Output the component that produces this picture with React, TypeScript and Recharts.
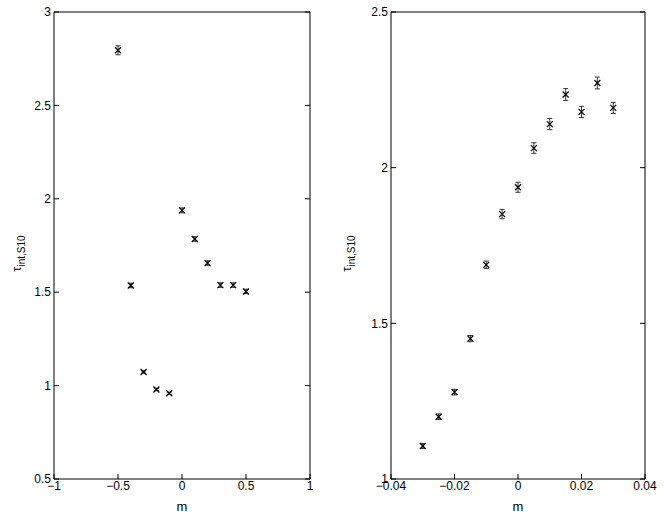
import React from 'react';
import { ScatterChart, Scatter, XAxis, YAxis, ErrorBar, Label } from 'recharts';

// left panel: wide range of m
const mLeft = [-0.5, -0.4, -0.3, -0.2, -0.1, 0, 0.1, 0.2, 0.3, 0.4, 0.5];
const tauLeft = [2.795, 1.536, 1.073, 0.979, 0.959, 1.938, 1.785, 1.656, 1.538, 1.538, 1.504];
const errLeft = [0.024, 0.012, 0.006, 0.006, 0.006, 0.013, 0.012, 0.012, 0.012, 0.012, 0.012];

// right panel: zoom near m = 0
const mRight = [-0.03, -0.025, -0.02, -0.015, -0.01, -0.005, 0, 0.005, 0.01, 0.015, 0.02, 0.025, 0.03];
const tauRight = [1.106, 1.2, 1.279, 1.451, 1.688, 1.851, 1.937, 2.063, 2.14, 2.235, 2.179, 2.272, 2.192];
const errRight = [0.008, 0.009, 0.009, 0.01, 0.012, 0.015, 0.016, 0.017, 0.018, 0.019, 0.018, 0.019, 0.018];

const leftXTicks = [-1, -0.5, 0, 0.5, 1];
const leftYTicks = [0.5, 1, 1.5, 2, 2.5, 3];
const rightXTicks = [-0.04, -0.02, 0, 0.02, 0.04];
const rightYTicks = [1, 1.5, 2, 2.5];

const font = '"Liberation Sans", Arial, sans-serif';
const tickStyle = { fontSize: 12, fill: '#000', fontFamily: font };

const fmt = (v: number) => String(v).replace('-', '\u2212');
const blank = () => '';

const Cross = (props: any) => {
  const { cx, cy } = props;
  const s = 3;
  return (
    <path
      d={`M${cx - s},${cy - s}L${cx + s},${cy + s}M${cx - s},${cy + s}L${cx + s},${cy - s}`}
      stroke="#000"
      strokeWidth={1.2}
      fill="none"
    />
  );
};

const TauLabel = (props: any) => {
  const vb = props.viewBox || {};
  const x = vb.x + 21;
  const y = vb.y + vb.height / 2 + 8;
  return (
    <text
      x={x}
      y={y}
      transform={`rotate(-90 ${x} ${y})`}
      textAnchor="middle"
      fontSize={13}
      fontFamily={font}
      fill="#000"
    >
      τ<tspan fontSize={10} dy={4}>int,S10</tspan>
    </text>
  );
};

type PanelProps = {
  xs: number[];
  ys: number[];
  errs: number[];
  xTicks: number[];
  yTicks: number[];
  width: number;
  yAxisWidth: number;
  rightMargin: number;
};

const Panel = ({ xs, ys, errs, xTicks, yTicks, width, yAxisWidth, rightMargin }: PanelProps) => {
  const data = xs.map((m, i) => ({ m, tau: ys[i], err: errs[i] }));
  const xDom: [number, number] = [xTicks[0], xTicks[xTicks.length - 1]];
  const yDom: [number, number] = [yTicks[0], yTicks[yTicks.length - 1]];
  return (
    <ScatterChart width={width} height={517} margin={{ top: 11, right: rightMargin, bottom: 6, left: 0 }}>
      <XAxis
        xAxisId="b"
        type="number"
        dataKey="m"
        domain={xDom}
        ticks={xTicks}
        tickFormatter={fmt}
        tickSize={-5}
        tickMargin={7}
        tick={tickStyle}
        stroke="#000"
        height={32}
        allowDataOverflow
      >
        <Label value="m" position="insideBottom" offset={0} style={{ fontSize: 13, fill: '#000', fontFamily: font }} />
      </XAxis>
      <XAxis
        xAxisId="t"
        orientation="top"
        type="number"
        domain={xDom}
        ticks={xTicks}
        tickFormatter={blank}
        tickSize={-5}
        stroke="#000"
        height={1}
        allowDataOverflow
      />
      <YAxis
        yAxisId="l"
        type="number"
        dataKey="tau"
        domain={yDom}
        ticks={yTicks}
        tickFormatter={fmt}
        tickSize={-5}
        tickMargin={8}
        tick={tickStyle}
        stroke="#000"
        width={yAxisWidth}
        allowDataOverflow
      >
        <Label content={TauLabel} />
      </YAxis>
      <YAxis
        yAxisId="r"
        orientation="right"
        type="number"
        domain={yDom}
        ticks={yTicks}
        tickFormatter={blank}
        tickSize={-5}
        stroke="#000"
        width={1}
        allowDataOverflow
      />
      <Scatter data={data} xAxisId="b" yAxisId="l" shape={Cross} isAnimationActive={false}>
        <ErrorBar dataKey="err" direction="y" width={2.5} stroke="#333" strokeWidth={1} />
      </Scatter>
    </ScatterChart>
  );
};

export default function App() {
  return (
    <div style={{ position: 'absolute', left: 0, top: 0, width: 664, height: 517, background: '#fff' }}>
      <div style={{ position: 'absolute', left: 0, top: 0 }}>
        <Panel xs={mLeft} ys={tauLeft} errs={errLeft} xTicks={leftXTicks} yTicks={leftYTicks} width={330} yAxisWidth={54} rightMargin={19} />
      </div>
      <div style={{ position: 'absolute', left: 330, top: 0 }}>
        <Panel xs={mRight} ys={tauRight} errs={errRight} xTicks={rightXTicks} yTicks={rightYTicks} width={334} yAxisWidth={61} rightMargin={18} />
      </div>
    </div>
  );
}
